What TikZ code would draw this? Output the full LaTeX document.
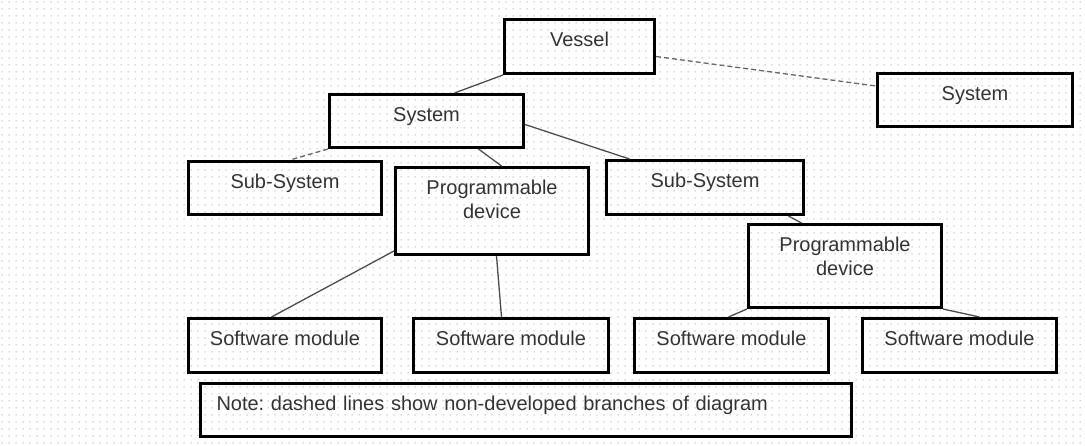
\documentclass[tikz,border=0pt]{standalone}
\usepackage{fontspec}
\setmainfont{Liberation Sans}
\usetikzlibrary{patterns}
\definecolor{dotgray}{RGB}{160,178,182}
\pgfdeclarepatternformonly{bgdots}{\pgfpointorigin}{\pgfpoint{7pt}{7pt}}{\pgfpoint{7pt}{7pt}}{\pgfpathcircle{\pgfpoint{3.5pt}{3.5pt}}{0.8pt}\pgfusepath{fill}}
\frenchspacing
\begin{document}
\begin{tikzpicture}[x=1pt, y=-1pt,
  blk/.style={draw=black, line width=3pt, inner sep=0pt, anchor=north west, align=center, text=black!80, font=\fontsize{20}{24.5}\selectfont, text height=27pt},
  link/.style={draw=black!70, line width=1.3pt},
  dlink/.style={draw=black!60, line width=1.3pt, dash pattern=on 5pt off 3pt}]
\useasboundingbox (0,0) rectangle (1085,446);
\fill[pattern=bgdots, pattern color=dotgray] (0,0) rectangle (1085,446);
% top level
\node[blk, minimum width=150pt, minimum height=54pt, text depth=27pt] (vessel) at (503,18) {Vessel};
\node[blk, minimum width=195pt, minimum height=53pt, text depth=26pt] (sysr) at (876,72) {System};
\node[blk, minimum width=194pt, minimum height=53pt, text depth=26pt] (sysl) at (328,93) {System};
% second level
\node[blk, minimum width=193pt, minimum height=53pt, text depth=26pt] (subl) at (187,160) {Sub-System};
\node[blk, minimum width=193pt, minimum height=87pt, text height=51.5pt, text depth=35.5pt] (progl) at (394,166) {Programmable\\device};
\node[blk, minimum width=197pt, minimum height=54pt, text depth=27pt] (subr) at (605,159) {Sub-System};
\node[blk, minimum width=193pt, minimum height=83pt, text height=51.5pt, text depth=31.5pt] (progr) at (747,223) {Programmable\\device};
% software modules
\node[blk, minimum width=193pt, minimum height=54pt, text depth=27pt] (swa) at (187,317) {Software module};
\node[blk, minimum width=195pt, minimum height=54pt, text depth=27pt] (swb) at (412,317) {Software module};
\node[blk, minimum width=194pt, minimum height=54pt, text depth=27pt] (swc) at (633,317) {Software module};
\node[blk, minimum width=194pt, minimum height=54pt, text depth=27pt] (swd) at (861,317) {Software module};
\node[blk, minimum width=651pt, minimum height=53pt, text width=619pt, inner xsep=16pt, align=left, text height=27pt, text depth=26pt] (note) at (199,382) {Note: dashed lines show non-developed branches of diagram};
% connectors
\draw[link] (vessel.south west) -- ([xshift=28pt]sysl.north);
\draw[dlink] ([yshift=-10pt]vessel.east) -- ([yshift=14pt]sysr.west);
\draw[dlink] (sysl.south west) -- ([xshift=5pt]subl.north);
\draw[link] ([xshift=52pt]sysl.south) -- ([xshift=9.5pt]progl.north);
\draw[link] ([yshift=-3.5pt]sysl.east) -- ([xshift=-75.5pt]subr.north);
\draw[link] ([xshift=83.5pt]subr.south) -- ([xshift=-43.5pt]progr.north);
\draw[link] ([yshift=5pt]progl.south west) -- ([xshift=-13.5pt]swa.north);
\draw[link] ([xshift=4.5pt]progl.south) -- ([xshift=-9.5pt]swb.north);
\draw[link] (progr.south west) -- ([xshift=-3pt]swc.north);
\draw[link] (progr.south east) -- ([xshift=20pt]swd.north);
\end{tikzpicture}
\end{document}
